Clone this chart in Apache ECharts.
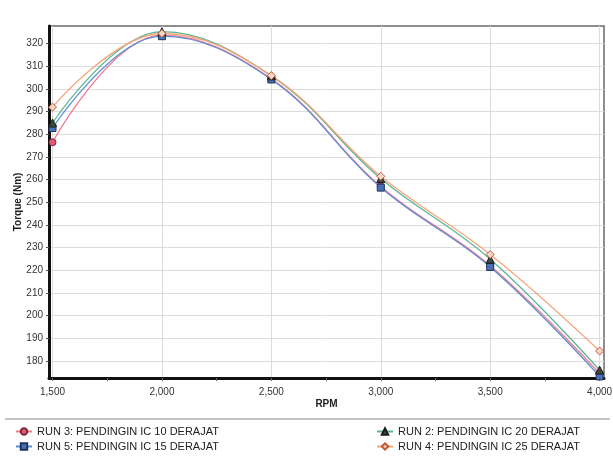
<!DOCTYPE html>
<html>
<head>
<meta charset="utf-8">
<script src="https://cdn.jsdelivr.net/npm/echarts@6/dist/echarts.min.js"></script>
<style>
  html, body { margin: 0; padding: 0; background: #ffffff; }
  #chart { width: 613px; height: 461px; }
</style>
</head>
<body>
<div id="chart"></div>
<script>
// Engine speed (RPM) at each measured point
const rpm = [1500, 2000, 2500, 3000, 3500, 4000];

// Torque (Nm) per intercooler run
const run3 = [276.5, 323.8, 304.5, 257.0, 222.0, 174.5]; // 10 derajat
const run5 = [282.8, 323.3, 304.2, 256.5, 221.5, 173.2]; // 15 derajat
const run2 = [285.0, 325.3, 305.8, 260.5, 224.9, 176.0]; // 20 derajat
const run4 = [292.0, 324.5, 305.9, 261.5, 227.0, 184.4]; // 25 derajat

const runNames = [
  'RUN 3: PENDINGIN IC 10 DERAJAT',
  'RUN 5: PENDINGIN IC 15 DERAJAT',
  'RUN 2: PENDINGIN IC 20 DERAJAT',
  'RUN 4: PENDINGIN IC 25 DERAJAT'
];

// Axis ticks
const rpmTicks = [1500, 2000, 2500, 3000, 3500, 4000];
const rpmMinorTicks = [1500, 1750, 2000, 2250, 2500, 2750, 3000, 3250, 3500, 3750, 4000];
const torqueTicks = [180, 190, 200, 210, 220, 230, 240, 250, 260, 270, 280, 290, 300, 310, 320];

const pair = (ys) => rpm.map((x, i) => [x, ys[i]]);

const styles = [
  { line: '#f27a8c', fill: '#e25c78', border: '#7a2a3a', symbol: 'circle', size: 7 },
  { line: '#5c8ed6', fill: '#4a6fb5', border: '#1e3560', symbol: 'rect', size: 7 },
  { line: '#5db596', fill: '#3c4a3c', border: '#1c1c1c', symbol: 'triangle', size: 8 },
  { line: '#f5a67a', fill: '#f6d6c6', border: '#c25a3a', symbol: 'diamond', size: 8 }
];
const seriesData = [run3, run5, run2, run4];

const fontFamily = '"Liberation Sans", Arial, sans-serif';

const chart = echarts.init(document.getElementById('chart'), null, { renderer: 'canvas' });

chart.setOption({
  animation: false,
  backgroundColor: '#ffffff',
  grid: {
    left: 49, right: 9, top: 26, bottom: 83,
    containLabel: false,
    outerBoundsMode: 'none',
    show: true,
    borderColor: '#6a6a6a',
    borderWidth: 1.5,
    backgroundColor: 'transparent'
  },
  xAxis: [
    {
      type: 'value',
      min: 1484,
      max: 4020,
      name: 'RPM',
      nameLocation: 'middle',
      nameGap: 21,
      nameMoveOverlap: false,
      nameTextStyle: { fontFamily, fontSize: 10, fontWeight: 'bold', color: '#222' },
      axisLine: { show: true, onZero: false, lineStyle: { color: '#111', width: 3 } },
      axisTick: { show: false, customValues: rpmTicks },
      axisLabel: {
        customValues: rpmTicks,
        margin: 9,
        fontFamily, fontSize: 10, color: '#333',
        formatter: (v) => v.toLocaleString('en-US')
      },
      splitLine: { show: true, lineStyle: { color: '#dcdcdc', width: 1 } }
    },
    {
      // tick marks every 250 RPM along the bottom edge
      type: 'value',
      position: 'bottom',
      min: 1484,
      max: 4020,
      axisLine: { show: false },
      axisTick: { show: true, customValues: rpmMinorTicks, length: 3, lineStyle: { color: '#666', width: 1 } },
      axisLabel: { show: false },
      splitLine: { show: false }
    }
  ],
  yAxis: {
    type: 'value',
    min: 172.5,
    max: 327.8,
    name: 'Torque (Nm)',
    nameLocation: 'middle',
    nameGap: 26,
    nameMoveOverlap: false,
    nameRotate: 90,
    nameTextStyle: { fontFamily, fontSize: 10, fontWeight: 'bold', color: '#222' },
    axisLine: { show: true, onZero: false, lineStyle: { color: '#111', width: 3 } },
    axisTick: { show: true, customValues: torqueTicks, length: 3, lineStyle: { color: '#555' } },
    axisLabel: { customValues: torqueTicks, margin: 6, fontFamily, fontSize: 10, color: '#333' },
    splitLine: { show: true, lineStyle: { color: '#dcdcdc', width: 1 } }
  },
  legend: [
    {
      data: [runNames[0], runNames[1]],
      orient: 'vertical',
      left: 10, top: 421,
      itemGap: 4, itemWidth: 16, itemHeight: 8,
      textStyle: { fontFamily, fontSize: 11, color: '#222' }
    },
    {
      data: [runNames[2], runNames[3]],
      orient: 'vertical',
      left: 371, top: 421,
      itemGap: 4, itemWidth: 16, itemHeight: 8,
      textStyle: { fontFamily, fontSize: 11, color: '#222' }
    }
  ],
  graphic: [
    {
      type: 'line',
      shape: { x1: 5, y1: 419, x2: 610, y2: 419 },
      style: { stroke: '#c4c4c4', lineWidth: 2 },
      silent: true
    }
  ],
  series: seriesData.map((ys, i) => ({
    name: runNames[i],
    type: 'line',
    smooth: 0.4,
    data: pair(ys),
    symbol: styles[i].symbol,
    symbolSize: styles[i].size,
    showSymbol: true,
    lineStyle: { color: styles[i].line, width: 1.3 },
    itemStyle: { color: styles[i].fill, borderColor: styles[i].border, borderWidth: 1 },
    emphasis: { disabled: true }
  }))
});
</script>
</body>
</html>
